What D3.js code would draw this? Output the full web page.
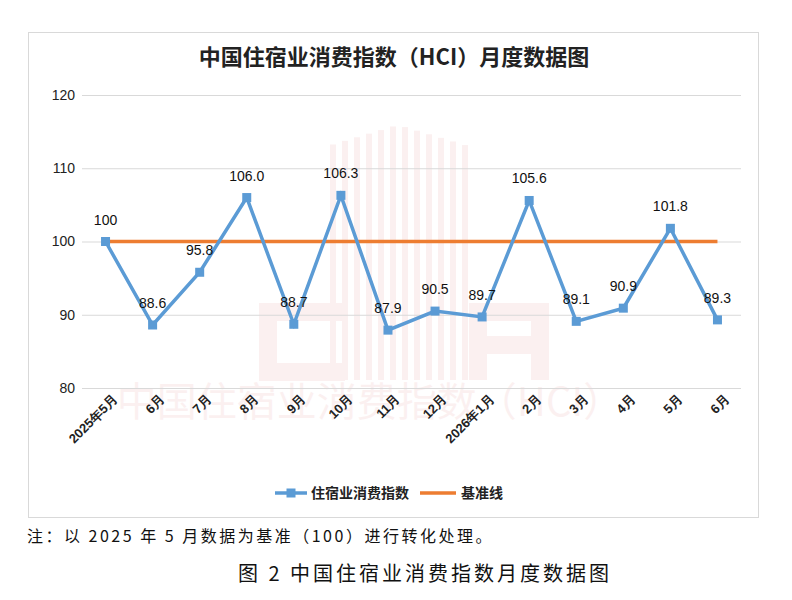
<!DOCTYPE html>
<html>
<head>
<meta charset="utf-8">
<script src="https://cdn.jsdelivr.net/npm/d3@7"></script>
<style>
  body { margin: 0; background: #fff; }
  svg { display: block; font-family: "Noto Sans CJK SC", "Noto Sans", sans-serif; }
</style>
</head>
<body>
<script>
// data
const months = ["2025年5月", "6月", "7月", "8月", "9月", "10月", "11月", "12月",
                "2026年1月", "2月", "3月", "4月", "5月", "6月"];
const hciValues = [100, 88.6, 95.8, 106.0, 88.7, 106.3, 87.9, 90.5, 89.7, 105.6, 89.1, 90.9, 101.8, 89.3];
const hciLabels = ["100", "88.6", "95.8", "106.0", "88.7", "106.3", "87.9", "90.5", "89.7", "105.6", "89.1", "90.9", "101.8", "89.3"];
const baseline = 100;
const yTicks = [80, 90, 100, 110, 120];

const width = 792, height = 600;
const blue = "#5b9bd5", orange = "#ed7d31";

const svg = d3.select("body").append("svg")
    .attr("width", width)
    .attr("height", height);

// chart frame
svg.append("rect")
    .attr("x", 28.5).attr("y", 32.5)
    .attr("width", 730).attr("height", 485)
    .attr("fill", "#fff")
    .attr("stroke", "#d9d9d9");

// faint watermark (logo + name)
const wm = svg.append("g").attr("fill", "#d23c3c").attr("opacity", 0.07);
d3.range(330, 470, 12).forEach(sx => {
    wm.append("rect").attr("x", sx).attr("y", 125 + Math.abs(sx - 395) * 0.3)
        .attr("width", 6).attr("height", 255 - Math.abs(sx - 395) * 0.3);
});
wm.append("path")
    .attr("fill", "none").attr("stroke", "#d23c3c").attr("stroke-width", 18)
    .attr("d", "M345,312 L268,312 L268,372 L345,372");
wm.append("path")
    .attr("fill", "none").attr("stroke", "#d23c3c").attr("stroke-width", 18)
    .attr("d", "M478,380 L478,312 L540,312 L540,380 M478,345 L540,345");
wm.append("text")
    .attr("x", 370).attr("y", 416)
    .attr("text-anchor", "middle")
    .attr("font-size", 40)
    .text("中国住宿业消费指数（HCI）");

const x = d3.scalePoint()
    .domain(d3.range(months.length))
    .range([82, 741])
    .padding(0.5);

const y = d3.scaleLinear()
    .domain([80, 120])
    .range([388, 95]);

// title
svg.append("text")
    .attr("x", 394).attr("y", 65)
    .attr("text-anchor", "middle")
    .attr("font-size", 22)
    .attr("font-weight", "bold")
    .attr("fill", "#222")
    .text("中国住宿业消费指数（HCI）月度数据图");

// gridlines + y labels
const yAxis = svg.append("g")
    .attr("transform", "translate(82,0)")
    .call(d3.axisLeft(y).tickValues(yTicks).tickSize(-659).tickPadding(8));
yAxis.select(".domain").remove();
yAxis.selectAll(".tick line").attr("stroke", "#d9d9d9");
yAxis.selectAll(".tick text")
    .attr("font-size", 14)
    .attr("fill", "#222")
    .attr("font-family", "Liberation Sans, Arial, sans-serif")
    .attr("x", -7);

// x labels
const xAxis = svg.append("g")
    .attr("transform", "translate(0,388)")
    .call(d3.axisBottom(x).tickSize(0).tickFormat(i => months[i]));
xAxis.select(".domain").remove();
xAxis.selectAll(".tick text")
    .attr("font-size", 13)
    .attr("font-weight", "bold")
    .attr("fill", "#222")
    .attr("text-anchor", "end")
    .attr("dy", null)
    .attr("transform", "translate(10,10) rotate(-45)");

// baseline
svg.append("line")
    .attr("x1", x(0)).attr("x2", x(months.length - 1))
    .attr("y1", y(baseline)).attr("y2", y(baseline))
    .attr("stroke", orange)
    .attr("stroke-width", 3.5);

// HCI line
const line = d3.line()
    .x((d, i) => x(i))
    .y(d => y(d));

svg.append("path")
    .datum(hciValues)
    .attr("fill", "none")
    .attr("stroke", blue)
    .attr("stroke-width", 3.5)
    .attr("stroke-linejoin", "miter")
    .attr("d", line);

svg.append("g").selectAll("rect")
    .data(hciValues)
    .enter().append("rect")
    .attr("x", (d, i) => x(i) - 4.5)
    .attr("y", d => y(d) - 4.5)
    .attr("width", 9).attr("height", 9)
    .attr("fill", blue);

svg.append("g").selectAll("text")
    .data(hciValues)
    .enter().append("text")
    .attr("x", (d, i) => x(i))
    .attr("y", d => y(d) - 17)
    .attr("text-anchor", "middle")
    .attr("font-size", 14)
    .attr("font-family", "Liberation Sans, Arial, sans-serif")
    .attr("fill", "#111")
    .text((d, i) => hciLabels[i]);

// legend
const lg = svg.append("g").attr("transform", "translate(0,493)");
lg.append("line").attr("x1", 275).attr("x2", 307).attr("stroke", blue).attr("stroke-width", 3.5);
lg.append("rect").attr("x", 286.5).attr("y", -4.5).attr("width", 9).attr("height", 9).attr("fill", blue);
lg.append("text").attr("x", 311).attr("y", 5).attr("font-size", 14).attr("font-weight", "bold")
    .attr("fill", "#222").text("住宿业消费指数");
lg.append("line").attr("x1", 420).attr("x2", 456).attr("stroke", orange).attr("stroke-width", 3.5);
lg.append("text").attr("x", 461).attr("y", 5).attr("font-size", 14).attr("font-weight", "bold")
    .attr("fill", "#222").text("基准线");

// notes below the chart
svg.append("text")
    .attr("x", 27).attr("y", 542)
    .attr("font-size", 16)
    .attr("letter-spacing", 2.5)
    .attr("fill", "#111")
    .text("注：以 2025 年 5 月数据为基准（100）进行转化处理。");

svg.append("text")
    .attr("x", 425).attr("y", 581)
    .attr("text-anchor", "middle")
    .attr("font-size", 20)
    .attr("letter-spacing", 3)
    .attr("fill", "#111")
    .text("图 2  中国住宿业消费指数月度数据图");
</script>
</body>
</html>
